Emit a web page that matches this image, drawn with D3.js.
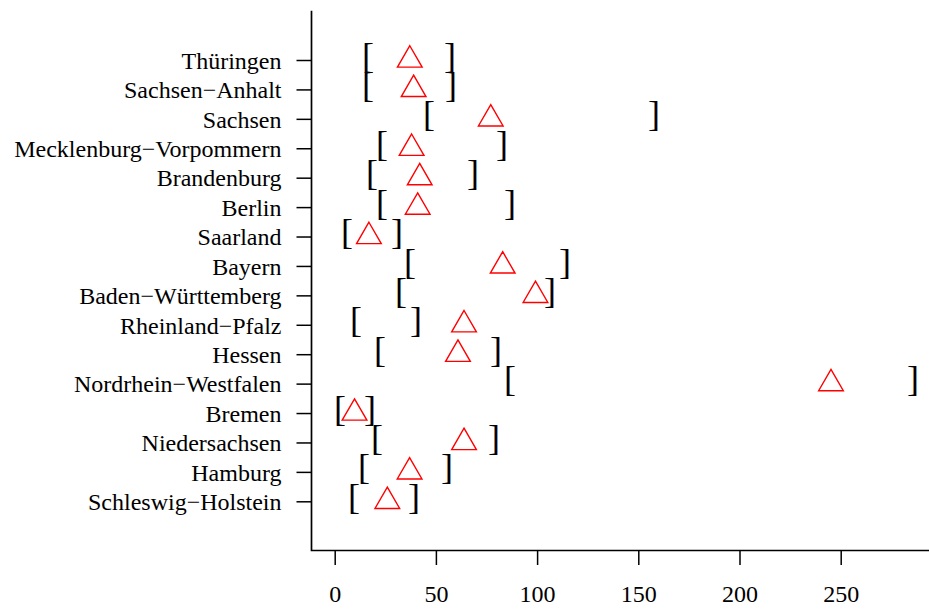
<!DOCTYPE html>
<html>
<head>
<meta charset="utf-8">
<script src="https://cdn.jsdelivr.net/npm/d3@7"></script>
<style>
  body { margin: 0; background: #fff; }
  svg { display: block; }
  text { font-family: "Liberation Serif", "Times New Roman", serif; }
</style>
</head>
<body>
<svg id="chart" width="929" height="609"></svg>
<script>
// bottom row first, as in the plot
var states = ["Schleswig\u2212Holstein", "Hamburg", "Niedersachsen", "Bremen",
  "Nordrhein\u2212Westfalen", "Hessen", "Rheinland\u2212Pfalz", "Baden\u2212W\u00fcrttemberg",
  "Bayern", "Saarland", "Berlin", "Brandenburg", "Mecklenburg\u2212Vorpommern",
  "Sachsen", "Sachsen\u2212Anhalt", "Th\u00fcringen"];
var estimate = [26.0, 37.0, 63.9, 9.8, 245.2, 60.9, 63.9, 99.2,
  83.0, 16.9, 41.0, 42.0, 38.0, 77.1, 39.0, 37.1];
var lower = [9.5, 14.5, 20.9, 2.6, 86.6, 22.4, 10.5, 32.8,
  37.2, 6.1, 23.4, 18.4, 23.4, 46.6, 16.5, 16.5];
var upper = [39.2, 55.5, 78.7, 17.4, 285.7, 79.7, 40.2, 106.4,
  113.8, 30.8, 86.6, 68.3, 82.7, 157.8, 57.5, 57.0];
var xTicks = [0, 50, 100, 150, 200, 250];

var rows = states.map(function(s, i) {
  return {name: s, est: estimate[i], lo: lower[i], hi: upper[i]};
});

var svg = d3.select("#chart");
var frameL = 311.5, frameB = 550.5, frameT = 10.7, frameR = 929;

var x = d3.scaleLinear().domain([0, 250]).range([334.7, 840.7]);
var y = d3.scalePoint().domain(states).range([501.3, 60]);

// L-shaped frame
svg.append("path")
  .attr("d", `M${frameL},${frameT}V${frameB}H${frameR}`)
  .attr("fill", "none")
  .attr("stroke", "#000")
  .attr("stroke-width", 1.7);

var yAxis = svg.append("g")
  .attr("transform", `translate(${frameL},0)`)
  .call(d3.axisLeft(y).tickSize(15).tickPadding(15));
yAxis.select(".domain").remove();
yAxis.selectAll("line").attr("stroke-width", 1.5);
yAxis.selectAll("text")
  .attr("font-size", 24)
  .attr("dy", "8.3px")
  .attr("fill", "#000");

var xAxis = svg.append("g")
  .attr("transform", `translate(0,${frameB})`)
  .call(d3.axisBottom(x).tickValues(xTicks).tickSize(14.5).tickFormat(d3.format("d")));
xAxis.select(".domain").remove();
xAxis.selectAll("line").attr("stroke-width", 1.5);
xAxis.selectAll("text")
  .attr("font-size", 24)
  .attr("y", 51)
  .attr("dy", 0)
  .attr("fill", "#000");

// interval brackets
var marks = svg.append("g");
marks.selectAll("text.lo")
  .data(rows)
  .enter().append("text")
    .attr("class", "lo")
    .attr("x", d => x(d.lo))
    .attr("y", d => y(d.name) + 7.6)
    .attr("text-anchor", "middle")
    .attr("font-size", 36)
    .text("[");
marks.selectAll("text.hi")
  .data(rows)
  .enter().append("text")
    .attr("class", "hi")
    .attr("x", d => x(d.hi))
    .attr("y", d => y(d.name) + 7.6)
    .attr("text-anchor", "middle")
    .attr("font-size", 36)
    .text("]");

// point estimates, open triangles (R pch 2 geometry)
var r = 14.26;
var tri = d3.line()([[0, -r], [r * 0.866, r / 2], [-r * 0.866, r / 2]]) + "Z";
marks.selectAll("path.est")
  .data(rows)
  .enter().append("path")
    .attr("class", "est")
    .attr("d", tri)
    .attr("transform", d => `translate(${x(d.est)},${y(d.name)})`)
    .attr("fill", "none")
    .attr("stroke", "#ff0000")
    .attr("stroke-width", 1.4);
</script>
</body>
</html>
